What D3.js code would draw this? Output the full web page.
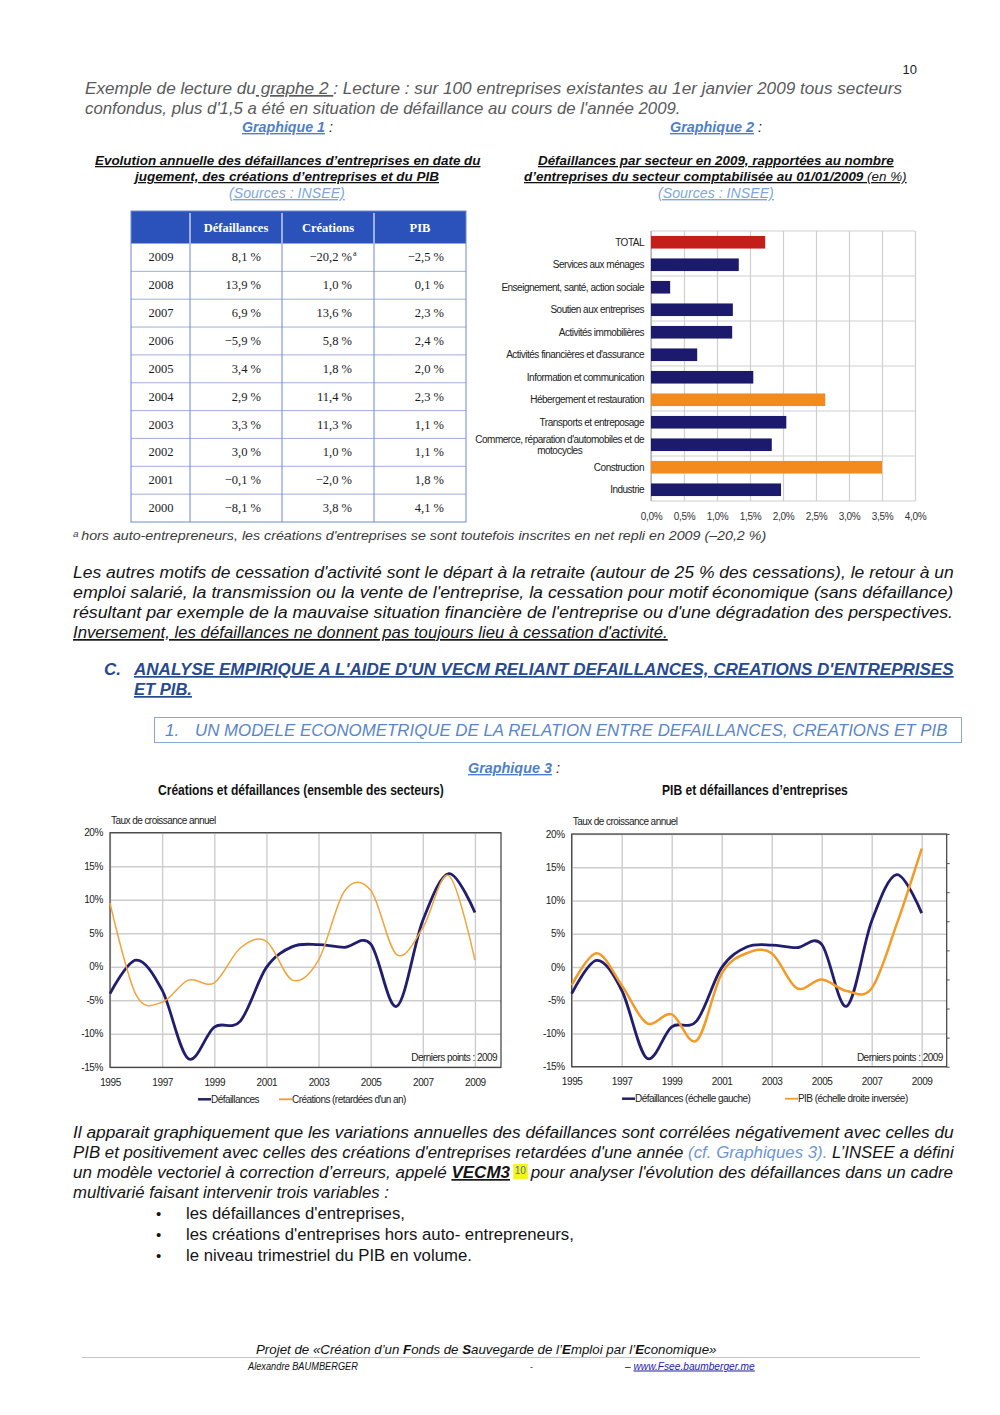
<!DOCTYPE html>
<html><head><meta charset="utf-8">
<script src="https://cdn.jsdelivr.net/npm/d3@7"></script>
<style>html,body{margin:0;padding:0;background:#fff}svg{display:block}</style>
</head><body>
<svg id="page" width="1000" height="1415"></svg>
<script>
// ---------------- DATA ----------------
const tableHead = ["", "Défaillances", "Créations", "PIB"];
const tableYears = ["2009","2008","2007","2006","2005","2004","2003","2002","2001","2000"];
const tableDef = ["8,1 %","13,9 %","6,9 %","−5,9 %","3,4 %","2,9 %","3,3 %","3,0 %","−0,1 %","−8,1 %"];
const tableCre = ["−20,2 %","1,0 %","13,6 %","5,8 %","1,8 %","11,4 %","11,3 %","1,0 %","−2,0 %","3,8 %"];
const tablePib = ["−2,5 %","0,1 %","2,3 %","2,4 %","2,0 %","2,3 %","1,1 %","1,1 %","1,8 %","4,1 %"];

const sectorNames = ["TOTAL","Services aux ménages","Enseignement, santé, action sociale","Soutien aux entreprises",
  "Activités immobilières","Activités financières et d'assurance","Information et communication",
  "Hébergement et restauration","Transports et entreposage","Commerce, réparation d'automobiles et de motocycles",
  "Construction","Industrie"];
const sectorRates = [1.73, 1.33, 0.29, 1.24, 1.23, 0.70, 1.55, 2.64, 2.05, 1.83, 3.50, 1.97];
const sectorGroups = ["total","base","base","base","base","base","base","high","base","base","high","base"];
const barTicks = [0, 0.5, 1, 1.5, 2, 2.5, 3, 3.5, 4];

const years = [1995,1996,1997,1998,1999,2000,2001,2002,2003,2004,2005,2006,2007,2008,2009];
const defaillances = [-4.0, 1.0, -3.5, -13.7, -9.0, -8.1, -0.1, 3.0, 3.3, 2.9, 3.4, -5.9, 6.9, 13.9, 8.1];
const creationsLag = [9.5, -4.2, -5.3, -2.0, -2.4, 2.8, 3.8, -2.0, 1.0, 11.3, 11.4, 1.8, 5.8, 13.6, 1.0];
const pib = [2.2, 1.1, 2.2, 3.5, 3.2, 4.1, 1.8, 1.1, 1.1, 2.3, 2.0, 2.4, 2.3, 0.1, -2.5];
const yTicks = [20, 15, 10, 5, 0, -5, -10, -15];
const xTickYears = [1995, 1997, 1999, 2001, 2003, 2005, 2007, 2009];
const pibTicks = [-3, -2, -1, 0, 1, 2, 3, 4, 5];

// ---------------- HELPERS ----------------
const svg = d3.select('#page');
const SANS = "'Liberation Sans', Arial, Helvetica, sans-serif";
const NARROW = "'Liberation Sans Narrow','Arial Narrow','Liberation Sans',Arial,sans-serif";
const SERIF = "'Liberation Serif','Times New Roman',serif";

function styleSel(sel, s) { if (s) Object.entries(s).forEach(([k, v]) => sel.style(k, v)); return sel; }

function fitLine(x0, x1, y, parts, base, parent) {
  parent = parent || svg;
  const g = parent.append('g');
  const t = g.append('text').attr('x', 0).attr('y', 0);
  styleSel(t, base);
  parts.forEach(p => {
    const ts = t.append('tspan').text(p.t);
    styleSel(ts, p.s);
    if (p.cls) ts.attr('class', p.cls);
  });
  const w = t.node().getComputedTextLength();
  const sx = (x1 - x0) / w;
  g.attr('transform', `translate(${x0},${y}) scale(${sx},1)`);
  return { g, t };
}
function P(t, s, cls) { return { t, s, cls }; }

const bodyIt = { 'font-family': NARROW, 'font-size': '17px', 'font-style': 'italic', 'fill': '#141414' };
const UL = { 'text-decoration': 'underline' };

// ---------------- HEADER TEXT ----------------
svg.append('text').attr('x', 917).attr('y', 74).attr('text-anchor', 'end')
  .style('font-family', SANS).style('font-size', '13px').style('fill', '#222').text('10');

const grayIt = Object.assign({}, bodyIt, { fill: '#5a5a5a' });
fitLine(85, 903, 94, [P('Exemple de lecture du'), P(' graphe 2 ', UL), P(': Lecture : sur 100 entreprises existantes au 1er janvier 2009 tous secteurs')], grayIt);
fitLine(85, 681, 114, [P("confondus, plus d'1,5 a été en situation de défaillance au cours de l'année 2009.")], grayIt);

const grafStyle = { 'font-family': NARROW, 'font-size': '14px', 'font-style': 'italic', 'fill': '#222' };
const grafBlue = { 'font-weight': 'bold', 'fill': '#4f7fc8', 'text-decoration': 'underline' };
fitLine(242, 333, 132, [P('Graphique 1', grafBlue), P(' :')], grafStyle);
fitLine(670, 762, 132, [P('Graphique 2', grafBlue), P(' :')], grafStyle);

const titleSt = { 'font-family': NARROW, 'font-size': '13px', 'font-style': 'italic', 'font-weight': 'bold', 'fill': '#111', 'text-decoration': 'underline' };
fitLine(95, 481, 165, [P("Evolution annuelle des défaillances d’entreprises en date du")], titleSt);
fitLine(135, 439, 181, [P("jugement, des créations d’entreprises et du PIB")], titleSt);
const srcSt = { 'font-family': NARROW, 'font-size': '14px', 'font-style': 'italic', 'fill': '#7fa5dc', 'text-decoration': 'underline' };
fitLine(229, 345, 198, [P('(Sources : INSEE)')], srcSt);
fitLine(538, 894, 165, [P("Défaillances par secteur en 2009, rapportées au nombre")], titleSt);
fitLine(524, 907, 181, [P("d’entreprises du secteur comptabilisée au 01/01/2009 "), P("(en %)", { 'font-weight': 'normal' })], titleSt);
fitLine(658, 774, 198, [P('(Sources : INSEE)')], srcSt);

// ---------------- TABLE ----------------
(function drawTable() {
  const g = svg.append('g');
  const colEdges = [131, 190, 282, 374, 466];
  const headTop = 211, headBot = 243.5, tableBot = 522;
  const row = d3.scaleBand().domain(tableYears).range([headBot, tableBot]);
  g.append('rect').attr('x', colEdges[0]).attr('y', headTop).attr('width', colEdges[4] - colEdges[0])
    .attr('height', headBot - headTop).attr('fill', '#2a52ba');
  tableHead.forEach((h, i) => {
    if (!h) return;
    g.append('text').attr('x', (colEdges[i] + colEdges[i + 1]) / 2).attr('y', 231.5).attr('text-anchor', 'middle')
      .style('font-family', SERIF).style('font-weight', 'bold').style('font-size', '12.5px').style('fill', '#fff').text(h);
  });
  tableYears.forEach((yr, i) => {
    if (i > 0) g.append('line').attr('x1', colEdges[0]).attr('x2', colEdges[4])
      .attr('y1', row(yr)).attr('y2', row(yr)).attr('stroke', '#9fb0dc').attr('stroke-width', 1);
  });
  colEdges.slice(1, 4).forEach(x => {
    g.append('line').attr('x1', x).attr('x2', x).attr('y1', headTop + 2).attr('y2', headBot)
      .attr('stroke', '#e8eeff').attr('stroke-width', 1.2);
    g.append('line').attr('x1', x).attr('x2', x).attr('y1', headBot).attr('y2', tableBot)
      .attr('stroke', '#6e88d2').attr('stroke-width', 1);
  });
  g.append('rect').attr('x', colEdges[0]).attr('y', headTop).attr('width', colEdges[4] - colEdges[0])
    .attr('height', tableBot - headTop).attr('fill', 'none').attr('stroke', '#6e88d2').attr('stroke-width', 1);
  const cell = (x, y, txt, anchor) => g.append('text').attr('x', x).attr('y', y).attr('text-anchor', anchor)
    .style('font-family', SERIF).style('font-size', '12.5px').style('fill', '#1a1a1a').text(txt);
  tableYears.forEach((yr, i) => {
    const yy = row(yr) + row.bandwidth() / 2 + 4;
    cell(161, yy, yr, 'middle');
    cell(261, yy, tableDef[i], 'end');
    cell(352, yy, tableCre[i], 'end');
    cell(444, yy, tablePib[i], 'end');
    if (i === 0) g.append('text').attr('x', 353).attr('y', yy - 5).style('font-family', SERIF)
      .style('font-size', '8px').style('fill', '#1a1a1a').text('a');
  });
})();

// footnote
fitLine(73, 767, 540, [P('a ', { 'font-size': '9px', 'baseline-shift': '3px' }), P("hors auto-entrepreneurs, les créations d'entreprises se sont toutefois inscrites en net repli en 2009 (–20,2 %)")],
  { 'font-family': NARROW, 'font-size': '13px', 'font-style': 'italic', 'fill': '#3a3a3a' });

// ---------------- BAR CHART ----------------
(function drawBars() {
  const g = svg.append('g');
  const x = d3.scaleLinear().domain([0, 4]).range([651, 915]);
  const y = d3.scaleBand().domain(sectorNames).range([231, 501]).paddingInner(0.44).paddingOuter(0.22);
  const color = d3.scaleOrdinal().domain(['total', 'base', 'high']).range(['#c41e1a', '#1b1a6c', '#f28a1e']);
  g.append('g').attr('transform', 'translate(0,501)')
    .call(d3.axisBottom(x).tickValues(barTicks).tickSize(-270).tickFormat(''))
    .call(a => { a.select('.domain').remove(); a.selectAll('line').attr('stroke', '#cfcfcf').attr('stroke-width', 1.2); });
  const hLines = sectorNames.filter((d, i) => i % 2 === 0).map(d => y(d) - y.step() * 0.22).concat([y.range()[1]]);
  g.selectAll('.hl').data(hLines).enter().append('line').attr('x1', x(0)).attr('x2', x(4))
    .attr('y1', d => d).attr('y2', d => d).attr('stroke', '#cfcfcf').attr('stroke-width', 1.2);
  g.append('line').attr('x1', x(0)).attr('x2', x(0)).attr('y1', 231).attr('y2', 501).attr('stroke', '#a0a0a0');
  g.selectAll('.bar').data(sectorNames).enter().append('rect')
    .attr('x', x(0)).attr('y', d => y(d)).attr('height', y.bandwidth())
    .attr('width', (d, i) => x(sectorRates[i]) - x(0)).attr('fill', (d, i) => color(sectorGroups[i]));
  g.append('g').attr('transform', 'translate(0,501)')
    .call(d3.axisBottom(x).tickValues(barTicks).tickSize(0).tickPadding(12)
      .tickFormat(d => d.toFixed(1).replace('.', ',') + '%'))
    .call(a => {
      a.select('.domain').remove();
      a.selectAll('text').style('font-family', SANS).style('font-size', '10px').style('letter-spacing', '-0.35px').style('fill', '#333');
    });
  const lab = { 'font-family': SANS, 'font-size': '10px', 'letter-spacing': '-0.5px', 'fill': '#222' };
  sectorNames.forEach(name => {
    const cy = y(name) + y.bandwidth() / 2;
    const t = styleSel(g.append('text').attr('x', 644).attr('y', cy).attr('dy', '0.35em').attr('text-anchor', 'end'), lab).text(name);
    const w = t.node().getComputedTextLength();
    if (w > 175) {
      t.remove();
      const words = name.split(' ');
      const l1 = words.slice(0, -1).join(' '), l2 = words[words.length - 1];
      const t1 = styleSel(g.append('text').attr('y', cy - 5).attr('dy', '0.35em').attr('text-anchor', 'middle'), lab).text(l1);
      const w1 = t1.node().getComputedTextLength();
      t1.attr('x', 644 - w1 / 2);
      styleSel(g.append('text').attr('x', 644 - w1 / 2).attr('y', cy + 6).attr('dy', '0.35em').attr('text-anchor', 'middle'), lab).text(l2);
    }
  });
})();

// ---------------- PARAGRAPH ----------------
fitLine(73, 954, 578, [P("Les autres motifs de cessation d'activité sont le départ à la retraite (autour de 25 % des cessations), le retour à un")], bodyIt);
fitLine(73, 954, 598, [P("emploi salarié, la transmission ou la vente de l'entreprise, la cessation pour motif économique (sans défaillance)")], bodyIt);
fitLine(73, 954, 618, [P("résultant par exemple de la mauvaise situation financière de l'entreprise ou d'une dégradation des perspectives.")], bodyIt);
fitLine(73, 668, 638, [P("Inversement, les défaillances ne donnent pas toujours lieu à cessation d'activité.", UL)], bodyIt);

const headSt = { 'font-family': NARROW, 'font-size': '17px', 'font-style': 'italic', 'font-weight': 'bold', 'fill': '#27498f' };
svg.append('text').attr('x', 104).attr('y', 675).style('font-family', NARROW).style('font-size', '17px')
  .style('font-style', 'italic').style('font-weight', 'bold').style('fill', '#27498f').text('C.');
fitLine(134, 954, 675, [P("ANALYSE EMPIRIQUE A L'AIDE D'UN VECM RELIANT DEFAILLANCES, CREATIONS D'ENTREPRISES", UL)], headSt);
fitLine(134, 192, 695, [P("ET PIB.", UL)], headSt);

svg.append('rect').attr('x', 154.5).attr('y', 717.5).attr('width', 807).attr('height', 25)
  .attr('fill', 'none').attr('stroke', '#86a8d8').attr('stroke-width', 1);
const boxSt = { 'font-family': NARROW, 'font-size': '17px', 'font-style': 'italic', 'fill': '#5a86c8' };
svg.append('text').attr('x', 165).attr('y', 736).style('font-family', NARROW).style('font-size', '17px')
  .style('font-style', 'italic').style('fill', '#5a86c8').text('1.');
fitLine(195, 948, 736, [P("UN MODELE ECONOMETRIQUE DE LA RELATION ENTRE DEFAILLANCES, CREATIONS ET PIB")], boxSt);

fitLine(468, 560, 773, [P('Graphique 3', grafBlue), P(' :')], grafStyle);

// ---------------- LINE CHARTS ----------------
function drawLineChart(o) {
  const g = svg.append('g');
  const x = d3.scaleLinear().domain([1995, 2010]).range([o.x0, o.x1]);
  const y = d3.scaleLinear().domain([-15, 20]).range([o.y1, o.y0]);
  const W = o.x1 - o.x0, H = o.y1 - o.y0;
  g.append('g').attr('transform', `translate(0,${o.y1})`)
    .call(d3.axisBottom(x).tickValues(xTickYears).tickSize(-H).tickFormat(''))
    .call(a => { a.select('.domain').remove(); a.selectAll('line').attr('stroke', '#cdcdcd').attr('stroke-width', 1.4); });
  g.append('g').attr('transform', `translate(${o.x0},0)`)
    .call(d3.axisLeft(y).tickValues(yTicks).tickSize(-W).tickFormat(''))
    .call(a => { a.select('.domain').remove(); a.selectAll('line').attr('stroke', '#cdcdcd').attr('stroke-width', 1.4); });
  g.append('rect').attr('x', o.x0).attr('y', o.y0).attr('width', W).attr('height', H)
    .attr('fill', 'none').attr('stroke', '#3c3c3c').attr('stroke-width', 1.2);
  if (o.y2) {
    const y2 = d3.scaleLinear().domain([-3, 5]).range([o.y0, o.y1]);
    g.append('g').attr('transform', `translate(${o.x1},0)`)
      .call(d3.axisRight(y2).tickValues(pibTicks).tickSize(3).tickFormat(''))
      .call(a => { a.select('.domain').remove(); a.selectAll('line').attr('stroke', '#555'); });
    o.y2 = y2;
  }
  const axTxt = a => a.selectAll('text').style('font-family', SANS).style('font-size', '10px')
    .style('letter-spacing', '-0.4px').style('fill', '#222');
  g.append('g').attr('transform', `translate(0,${o.y1})`)
    .call(d3.axisBottom(x).tickValues(xTickYears).tickSize(0).tickPadding(11.5).tickFormat(d3.format('d')))
    .call(a => { a.select('.domain').remove(); axTxt(a); });
  g.append('g').attr('transform', `translate(${o.x0},0)`)
    .call(d3.axisLeft(y).tickValues(yTicks).tickSize(0).tickPadding(7).tickFormat(d => d + '%'))
    .call(a => { a.select('.domain').remove(); axTxt(a); });
  const curve = d3.curveCardinal.tension(0);
  const l1 = d3.line().x((d, i) => x(years[i])).y(d => y(d)).curve(curve);
  g.append('path').attr('d', l1(defaillances)).attr('fill', 'none').attr('stroke', '#221e6e').attr('stroke-width', 2.8);
  if (o.y2) {
    const l2 = d3.line().x((d, i) => x(years[i])).y(d => o.y2(d)).curve(curve);
    g.append('path').attr('d', l2(pib)).attr('fill', 'none').attr('stroke', '#f39a27').attr('stroke-width', 2.5);
  } else {
    g.append('path').attr('d', l1(creationsLag)).attr('fill', 'none').attr('stroke', '#f3a33c').attr('stroke-width', 1.5);
  }
  const small = { 'font-family': SANS, 'font-size': '10px', 'letter-spacing': '-0.55px', 'fill': '#222' };
  styleSel(g.append('text').attr('x', o.x0 + 1).attr('y', o.y0 - 9), small).text('Taux de croissance annuel');
  styleSel(g.append('text').attr('x', o.x1 - 4).attr('y', o.y1 - 6).attr('text-anchor', 'end'), small).text('Derniers points : 2009');
  fitLine(o.tx0, o.tx1, 795, [P(o.title)], { 'font-family': NARROW, 'font-size': '14px', 'font-weight': 'bold', 'fill': '#111' });
  const ly = o.y1 + 32;
  g.append('line').attr('x1', o.lg[0]).attr('x2', o.lg[0] + 13).attr('y1', ly).attr('y2', ly).attr('stroke', '#221e6e').attr('stroke-width', 2.5);
  styleSel(g.append('text').attr('x', o.lg[0] + 13).attr('y', ly + 3.5), small).text(o.lab[0]);
  g.append('line').attr('x1', o.lg[1]).attr('x2', o.lg[1] + 13).attr('y1', ly).attr('y2', ly).attr('stroke', '#f39a27').attr('stroke-width', 1.8);
  styleSel(g.append('text').attr('x', o.lg[1] + 13).attr('y', ly + 3.5), small).text(o.lab[1]);
}
drawLineChart({ x0: 110, x1: 501, y0: 832.7, y1: 1067.3, title: 'Créations et défaillances (ensemble des secteurs)',
  tx0: 158, tx1: 444, lg: [198, 279], lab: ['Défaillances', "Créations (retardées d'un an)"] });
drawLineChart({ x0: 571.7, x1: 946.7, y0: 834, y1: 1066.7, y2: true, title: 'PIB et défaillances d’entreprises',
  tx0: 662, tx1: 848, lg: [622, 785], lab: ['Défaillances (échelle gauche)', 'PIB (échelle droite inversée)'] });

// ---------------- BOTTOM PARAGRAPH ----------------
fitLine(73, 954, 1138, [P("Il apparait graphiquement que les variations annuelles des défaillances sont corrélées négativement avec celles du")], bodyIt);
fitLine(73, 954, 1158, [P("PIB et positivement avec celles des créations d'entreprises retardées d'une année "), P("(cf. Graphiques 3).", { fill: '#6d96d2' }), P(" L’INSEE a défini")], bodyIt);
const q3 = fitLine(73, 954, 1178, [P("un modèle vectoriel à correction d’erreurs, appelé "), P("VECM3", { 'font-weight': 'bold', 'text-decoration': 'underline' }),
  P(" "), P("10", { 'font-size': '10px', 'baseline-shift': '4px', 'fill': '#4a6fb0', 'font-style': 'normal' }, 'hlt'),
  P(" pour analyser l'évolution des défaillances dans un cadre")], bodyIt);
(function () {
  const bb = q3.t.select('.hlt').node().getBBox();
  q3.g.insert('rect', 'text').attr('x', bb.x - 1.5).attr('y', bb.y - 1).attr('width', bb.width + 3).attr('height', bb.height + 4).attr('fill', '#f7f31c');
})();
fitLine(73, 389, 1198, [P("multivarié faisant intervenir trois variables :")], bodyIt);

const bullSt = { 'font-family': NARROW, 'font-size': '17px', 'fill': '#141414' };
const bullets = [["les défaillances d'entreprises,", 405, 1219], ["les créations d'entreprises hors auto- entrepreneurs,", 574, 1240], ["le niveau trimestriel du PIB en volume.", 472, 1261]];
bullets.forEach(b => {
  svg.append('text').attr('x', 156).attr('y', b[2]).style('font-family', SANS).style('font-size', '15px').style('fill', '#141414').text('•');
  fitLine(186, b[1], b[2], [P(b[0])], bullSt);
});

// ---------------- FOOTER ----------------
const B = { 'font-weight': 'bold' };
fitLine(256, 717, 1354, [P('Projet de «Création d’un '), P('F', B), P('onds de '), P('S', B), P('auvegarde de l’'), P('E', B), P('mploi par l’'), P('E', B), P('conomique»')],
  { 'font-family': NARROW, 'font-size': '13px', 'font-style': 'italic', 'fill': '#111' });
svg.append('line').attr('x1', 82).attr('x2', 920).attr('y1', 1357.5).attr('y2', 1357.5).attr('stroke', '#c4c4c4').attr('stroke-width', 1);
fitLine(248, 358, 1369.5, [P('Alexandre BAUMBERGER')], { 'font-family': NARROW, 'font-size': '10px', 'font-style': 'italic', 'fill': '#111' });
svg.append('text').attr('x', 530).attr('y', 1369.5).style('font-family', SANS).style('font-size', '9px').style('fill', '#333').text('-');
fitLine(625, 755, 1369.5, [P('– '), P('www.Fsee.baumberger.me', { fill: '#1c1ca8', 'text-decoration': 'underline' })],
  { 'font-family': NARROW, 'font-size': '10px', 'font-style': 'italic', 'fill': '#111' });
</script>
</body></html>
